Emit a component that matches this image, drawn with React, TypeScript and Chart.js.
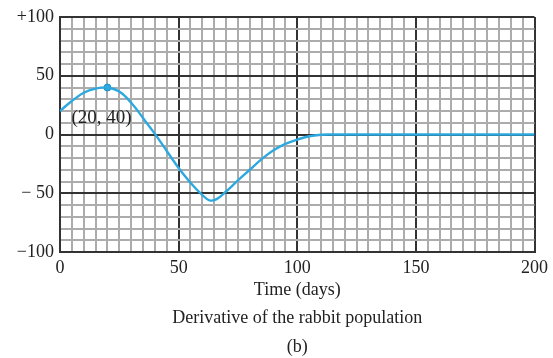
import React, { useEffect, useRef } from "react";
import { Chart, registerables } from "chart.js";

Chart.register(...registerables);

const days = [0, 5, 10, 15, 20, 25, 30, 35, 40, 45, 50, 55, 60, 63, 66, 70, 75, 80, 85, 90, 95, 100, 105, 110, 115, 120, 130, 140, 150, 160, 170, 180, 190, 200];
const derivative = [20, 28.5, 35.5, 39, 40, 36.5, 27, 14, 0.5, -14, -28.5, -41, -51.5, -56, -55, -48.5, -39, -30, -21, -13.5, -8, -4.3, -1.5, -0.2, 0, 0, 0, 0, 0, 0, 0, 0, 0, 0];
const markedPoint = { x: 20, y: 40, label: "(20, 40)" };
const yTickLabels: Record<number, string> = { 100: "+100", 50: "50", 0: "0", [-50]: "\u2212 50", [-100]: "\u2212100" };
const xTickLabels: Record<number, string> = { 0: "0", 50: "50", 100: "100", 150: "150", 200: "200" };
const xTitle = "Time (days)";
const captionLines = ["Derivative of the rabbit population", "(b)"];

const TEXT = "#222";
const FONT = "'Liberation Serif', 'Times New Roman', serif";
const MAJOR = "#333";
const MINOR = "#acacac";
const BLUE = "#2ea9e0";

export default function App() {
  const ref = useRef<HTMLCanvasElement | null>(null);
  useEffect(() => {
    const canvas = ref.current;
    if (!canvas) return;
    const captionPlugin = {
      id: "caption",
      afterDraw(chart: any) {
        const { ctx, chartArea } = chart;
        const cx = (chartArea.left + chartArea.right) / 2;
        ctx.save();
        ctx.fillStyle = TEXT;
        ctx.textAlign = "center";
        ctx.textBaseline = "middle";
        ctx.font = `18px ${FONT}`;
        ctx.fillText(xTitle, cx, chartArea.bottom + 38);
        ctx.fillText(captionLines[0], cx, chartArea.bottom + 66);
        ctx.fillText(captionLines[1], cx, chartArea.bottom + 95);
        const xs = chart.scales.x;
        const ys = chart.scales.y;
        ctx.textAlign = "left";
        ctx.font = `19px ${FONT}`;
        ctx.fillText(markedPoint.label, xs.getPixelForValue(markedPoint.x) - 36, ys.getPixelForValue(markedPoint.y) + 31);
        ctx.restore();
      },
    };
    const chart = new Chart(canvas, {
      type: "line",
      data: {
        datasets: [
          {
            data: days.map((d, i) => ({ x: d, y: derivative[i] })),
            borderColor: BLUE,
            borderWidth: 2.4,
            pointRadius: 0,
            tension: 0.4,
            fill: false,
          },
          {
            data: [{ x: markedPoint.x, y: markedPoint.y }],
            borderColor: "#1c8fc8",
            backgroundColor: BLUE,
            pointRadius: 3.5,
            pointBorderWidth: 1,
            showLine: false,
          },
        ],
      },
      options: {
        responsive: false,
        animation: false,
        layout: { padding: { left: 0, right: 18, top: 17, bottom: 0 } },
        plugins: { legend: { display: false }, tooltip: { enabled: false }, title: { display: false } },
        scales: {
          x: {
            type: "linear",
            min: 0,
            max: 200,
            afterFit: (s: any) => {
              s.height = 106;
            },
            ticks: {
              stepSize: 5,
              autoSkip: false,
              maxRotation: 0,
              padding: 5,
              color: TEXT,
              font: { family: FONT, size: 18 },
              callback: (v: any) => xTickLabels[v as number] ?? "",
            },
            grid: {
              drawTicks: false,
              color: (c: any) => (c.tick && c.tick.value % 50 === 0 ? MAJOR : MINOR),
              lineWidth: 2,
            },
            border: { color: MAJOR, width: 2 },
          },
          y: {
            type: "linear",
            min: -100,
            max: 100,
            afterFit: (s: any) => {
              s.width = 60;
            },
            ticks: {
              stepSize: 10,
              autoSkip: false,
              padding: 6,
              color: TEXT,
              font: { family: FONT, size: 18 },
              callback: (v: any) => yTickLabels[v as number] ?? "",
            },
            grid: {
              drawTicks: false,
              color: (c: any) => (c.tick && c.tick.value % 50 === 0 ? MAJOR : MINOR),
              lineWidth: 2,
            },
            border: { color: MAJOR, width: 2 },
          },
        },
      },
      plugins: [captionPlugin],
    } as any);
    return () => chart.destroy();
  }, []);
  return (
    <div style={{ position: "fixed", left: 0, top: 0, width: 553, height: 358, background: "#fff" }}>
      <canvas ref={ref} width={553} height={358} />
    </div>
  );
}
